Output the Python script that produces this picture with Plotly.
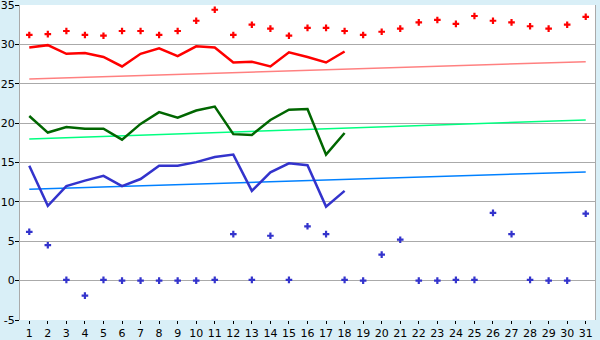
import plotly.graph_objects as go

days = list(range(1, 32))
line_days = list(range(1, 19))

red_dots = [31.2, 31.3, 31.7, 31.2, 31.1, 31.7, 31.7, 31.2, 31.7, 33.0,
            34.4, 31.2, 32.5, 32.0, 31.1, 32.1, 32.1, 31.7, 31.2, 31.6,
            32.0, 32.8, 33.1, 32.6, 33.6, 33.0, 32.8, 32.3, 32.0, 32.5, 33.5]
red_line = [29.6, 29.9, 28.8, 28.9, 28.4, 27.2, 28.8, 29.5, 28.5, 29.75,
            29.6, 27.7, 27.8, 27.2, 29.0, 28.4, 27.7, 29.1]
green_line = [20.9, 18.8, 19.5, 19.3, 19.3, 17.9, 19.9, 21.4, 20.7, 21.6,
              22.1, 18.6, 18.5, 20.4, 21.7, 21.8, 16.0, 18.75]
blue_line = [14.6, 9.5, 12.0, 12.7, 13.3, 12.0, 12.9, 14.6, 14.6, 15.05,
             15.7, 16.0, 11.4, 13.75, 14.9, 14.65, 9.4, 11.4]
blue_dots = [6.2, 4.5, 0.1, -1.9, 0.1, 0.0, 0.0, 0.0, 0.0, 0.0,
             0.1, 5.9, 0.1, 5.7, 0.1, 6.9, 5.9, 0.1, 0.0, 3.3,
             5.2, 0.0, 0.0, 0.1, 0.1, 8.6, 5.9, 0.1, 0.0, 0.0, 8.5]
trend_x = [1, 31]
red_trend = [25.6, 27.8]
green_trend = [18.0, 20.4]
blue_trend = [11.6, 13.8]
y_ticks = [-5, 0, 5, 10, 15, 20, 25, 30, 35]

fig = go.Figure()
fig.add_trace(go.Scatter(x=trend_x, y=red_trend, mode="lines",
                         line=dict(color="#ff8080", width=1.5)))
fig.add_trace(go.Scatter(x=trend_x, y=green_trend, mode="lines",
                         line=dict(color="#00ff80", width=1.5)))
fig.add_trace(go.Scatter(x=trend_x, y=blue_trend, mode="lines",
                         line=dict(color="#0080ff", width=1.5)))
fig.add_trace(go.Scatter(x=line_days, y=red_line, mode="lines",
                         line=dict(color="#ff0000", width=2.5)))
fig.add_trace(go.Scatter(x=line_days, y=green_line, mode="lines",
                         line=dict(color="#006600", width=2.5)))
fig.add_trace(go.Scatter(x=line_days, y=blue_line, mode="lines",
                         line=dict(color="#3333cc", width=2.5)))
fig.add_trace(go.Scatter(x=days, y=red_dots, mode="markers",
                         marker=dict(color="#ff0000", symbol="cross", size=5.5,
                                     line=dict(width=0))))
fig.add_trace(go.Scatter(x=days, y=blue_dots, mode="markers",
                         marker=dict(color="#3333cc", symbol="cross", size=5.5,
                                     line=dict(width=0))))

fig.update_layout(
    width=600, height=340,
    margin=dict(l=20, r=5, t=5, b=20, autoexpand=False),
    paper_bgcolor="#d9eff7",
    plot_bgcolor="#ffffff",
    showlegend=False,
    font=dict(family="DejaVu Sans", size=11, color="#000000"),
)
fig.update_xaxes(
    range=[0.5, 31.5], tickmode="array", tickvals=days,
    ticktext=[str(d) for d in days],
    showgrid=False, zeroline=False, automargin=False,
    showline=False, ticklabeloverflow="allow",
    ticks="outside", ticklen=3, tickcolor="#000000", tickwidth=1,
)
fig.update_yaxes(
    range=[-5, 35], tickmode="array", tickvals=y_ticks,
    ticktext=[str(v) for v in y_ticks],
    showgrid=True, gridcolor="#aaaaaa", gridwidth=1,
    zeroline=False, automargin=False, ticklabeloverflow="allow",
    ticklabelstandoff=-2,
    showline=True, linecolor="#aaaaaa", linewidth=1, mirror=True,
    ticks="outside", ticklen=4, tickcolor="#000000", tickwidth=1,
)

fig.write_html("out.html")
